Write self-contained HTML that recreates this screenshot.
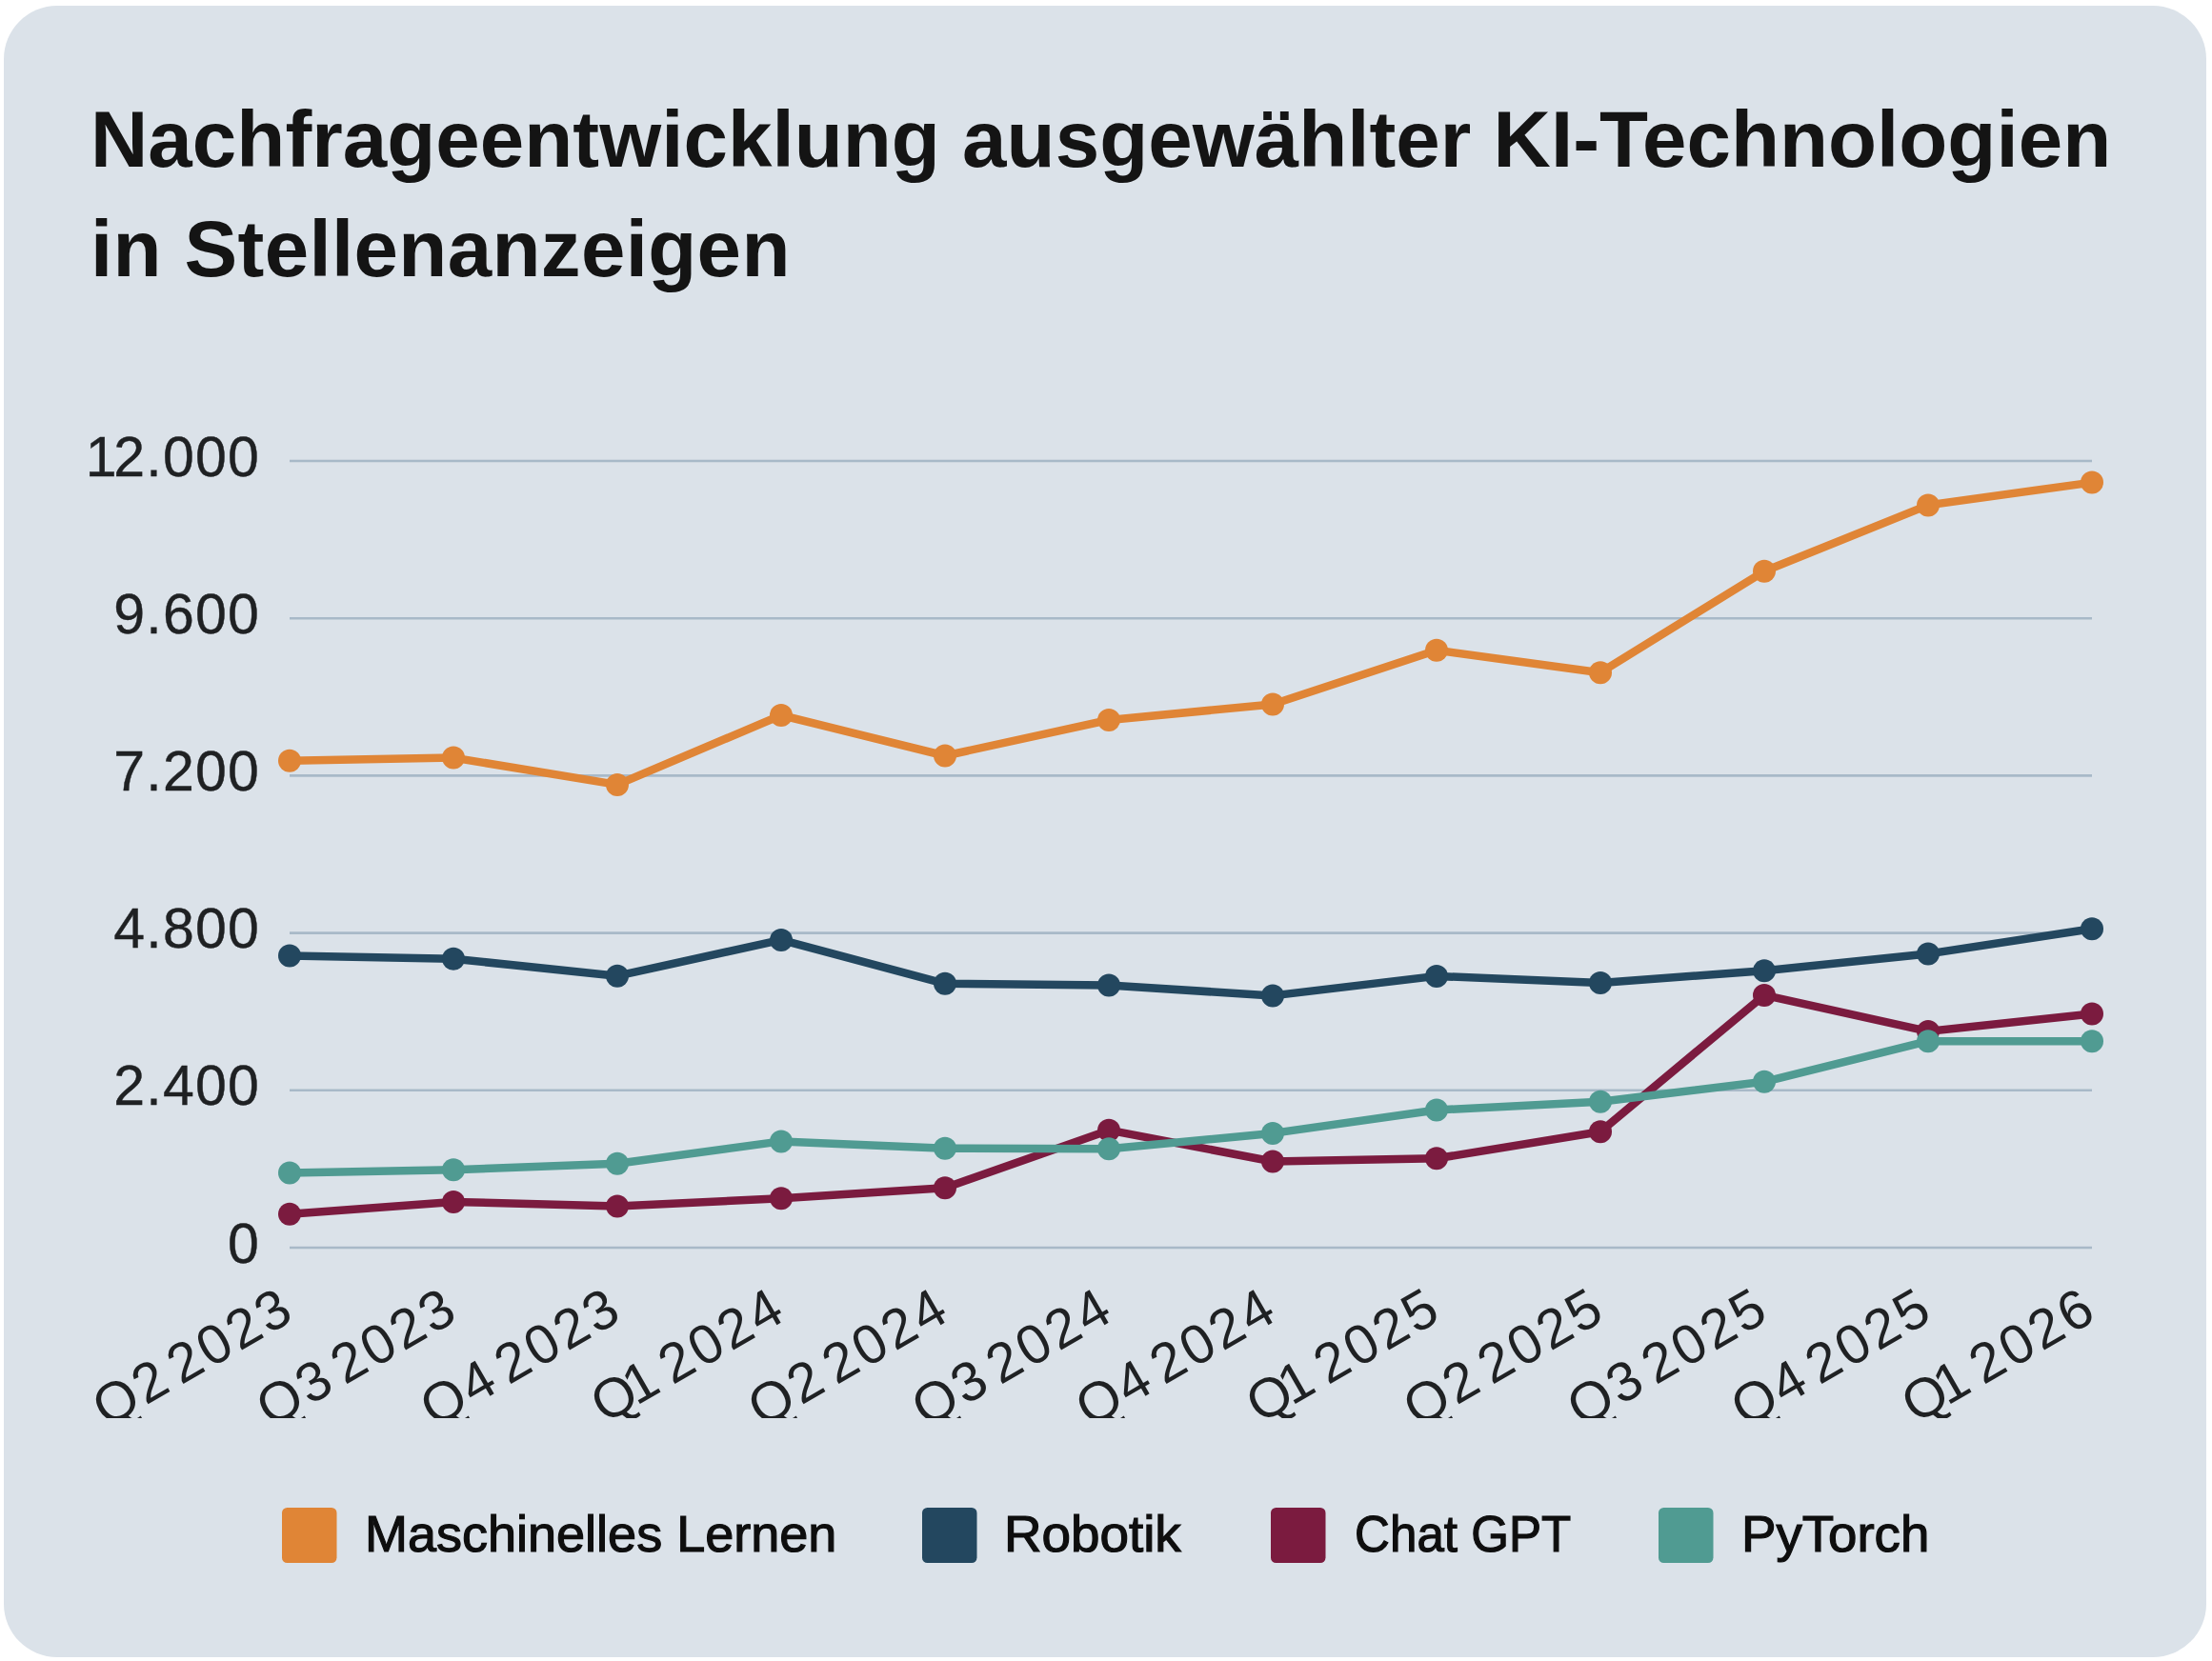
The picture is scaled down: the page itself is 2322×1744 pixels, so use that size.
<!DOCTYPE html>
<html><head><meta charset="utf-8">
<style>
html,body{margin:0;padding:0;background:#fff;width:2322px;height:1744px;overflow:hidden}
svg{display:block}
text{font-family:"Liberation Sans",sans-serif}
.t{font-weight:bold;font-size:83.5px;fill:#141414}
.yl{font-size:59px;fill:#1f2123;letter-spacing:1.2px;stroke:#1f2123;stroke-width:0.4px}
.xl{font-size:58px;fill:#1f2123;letter-spacing:3.2px;word-spacing:-10px;stroke:#1f2123;stroke-width:0px}
.lg{font-size:54px;fill:#0e0e0e;stroke:#0e0e0e;stroke-width:1.2px}
</style></head><body>
<svg width="2322" height="1744" viewBox="0 0 2322 1744">
<defs><clipPath id="xc"><rect x="0" y="1320" width="2322" height="169"/></clipPath></defs>
<rect x="4" y="6" width="2312" height="1734" rx="56" ry="56" fill="#dbe2e9"/>
<text x="95" y="175" class="t" letter-spacing="0.05">Nachfrageentwicklung ausgewählter KI-Technologien</text>
<text x="95" y="290" class="t" letter-spacing="0.35">in Stellenanzeigen</text>
<line x1="304" y1="484.0" x2="2196" y2="484.0" stroke="#a8b9c8" stroke-width="2.6"/>
<line x1="304" y1="649.2" x2="2196" y2="649.2" stroke="#a8b9c8" stroke-width="2.6"/>
<line x1="304" y1="814.4" x2="2196" y2="814.4" stroke="#a8b9c8" stroke-width="2.6"/>
<line x1="304" y1="979.6" x2="2196" y2="979.6" stroke="#a8b9c8" stroke-width="2.6"/>
<line x1="304" y1="1144.8" x2="2196" y2="1144.8" stroke="#a8b9c8" stroke-width="2.6"/>
<line x1="304" y1="1310.0" x2="2196" y2="1310.0" stroke="#a8b9c8" stroke-width="2.6"/>
<text x="273" y="499.5" text-anchor="end" class="yl">1<tspan dx="-4.5">2.000</tspan></text>
<text x="273" y="664.7" text-anchor="end" class="yl">9.600</text>
<text x="273" y="829.9" text-anchor="end" class="yl">7.200</text>
<text x="273" y="995.1" text-anchor="end" class="yl">4.800</text>
<text x="273" y="1160.3" text-anchor="end" class="yl">2.400</text>
<text x="273" y="1325.5" text-anchor="end" class="yl">0</text>
<polyline points="304,798.8 476,795.6 648,823.9 820,751 992,793.5 1164,756 1336,739.5 1508,682.8 1680,706.2 1852,599.8 2024,530.4 2196,506.6" fill="none" stroke="#e08536" stroke-width="8.5" stroke-linejoin="round"/>
<circle cx="304" cy="798.8" r="12" fill="#e08536"/>
<circle cx="476" cy="795.6" r="12" fill="#e08536"/>
<circle cx="648" cy="823.9" r="12" fill="#e08536"/>
<circle cx="820" cy="751" r="12" fill="#e08536"/>
<circle cx="992" cy="793.5" r="12" fill="#e08536"/>
<circle cx="1164" cy="756" r="12" fill="#e08536"/>
<circle cx="1336" cy="739.5" r="12" fill="#e08536"/>
<circle cx="1508" cy="682.8" r="12" fill="#e08536"/>
<circle cx="1680" cy="706.2" r="12" fill="#e08536"/>
<circle cx="1852" cy="599.8" r="12" fill="#e08536"/>
<circle cx="2024" cy="530.4" r="12" fill="#e08536"/>
<circle cx="2196" cy="506.6" r="12" fill="#e08536"/>
<polyline points="304,1003.5 476,1006.8 648,1024.7 820,986.9 992,1032.8 1164,1034.6 1336,1045.4 1508,1024.9 1680,1032 1852,1019.2 2024,1001.5 2196,975.2" fill="none" stroke="#23475f" stroke-width="8.5" stroke-linejoin="round"/>
<circle cx="304" cy="1003.5" r="12" fill="#23475f"/>
<circle cx="476" cy="1006.8" r="12" fill="#23475f"/>
<circle cx="648" cy="1024.7" r="12" fill="#23475f"/>
<circle cx="820" cy="986.9" r="12" fill="#23475f"/>
<circle cx="992" cy="1032.8" r="12" fill="#23475f"/>
<circle cx="1164" cy="1034.6" r="12" fill="#23475f"/>
<circle cx="1336" cy="1045.4" r="12" fill="#23475f"/>
<circle cx="1508" cy="1024.9" r="12" fill="#23475f"/>
<circle cx="1680" cy="1032" r="12" fill="#23475f"/>
<circle cx="1852" cy="1019.2" r="12" fill="#23475f"/>
<circle cx="2024" cy="1001.5" r="12" fill="#23475f"/>
<circle cx="2196" cy="975.2" r="12" fill="#23475f"/>
<polyline points="304,1274.8 476,1262 648,1266.4 820,1258.3 992,1247.2 1164,1186.7 1336,1219.5 1508,1216.3 1680,1188.2 1852,1044.9 2024,1082.9 2196,1064.5" fill="none" stroke="#7b1b3f" stroke-width="8.5" stroke-linejoin="round"/>
<circle cx="304" cy="1274.8" r="12" fill="#7b1b3f"/>
<circle cx="476" cy="1262" r="12" fill="#7b1b3f"/>
<circle cx="648" cy="1266.4" r="12" fill="#7b1b3f"/>
<circle cx="820" cy="1258.3" r="12" fill="#7b1b3f"/>
<circle cx="992" cy="1247.2" r="12" fill="#7b1b3f"/>
<circle cx="1164" cy="1186.7" r="12" fill="#7b1b3f"/>
<circle cx="1336" cy="1219.5" r="12" fill="#7b1b3f"/>
<circle cx="1508" cy="1216.3" r="12" fill="#7b1b3f"/>
<circle cx="1680" cy="1188.2" r="12" fill="#7b1b3f"/>
<circle cx="1852" cy="1044.9" r="12" fill="#7b1b3f"/>
<circle cx="2024" cy="1082.9" r="12" fill="#7b1b3f"/>
<circle cx="2196" cy="1064.5" r="12" fill="#7b1b3f"/>
<polyline points="304,1231.5 476,1228.3 648,1221.8 820,1198.4 992,1205.8 1164,1206.2 1336,1189.9 1508,1165.5 1680,1156.7 1852,1135.8 2024,1093.2 2196,1093.2" fill="none" stroke="#509b92" stroke-width="8.5" stroke-linejoin="round"/>
<circle cx="304" cy="1231.5" r="12" fill="#509b92"/>
<circle cx="476" cy="1228.3" r="12" fill="#509b92"/>
<circle cx="648" cy="1221.8" r="12" fill="#509b92"/>
<circle cx="820" cy="1198.4" r="12" fill="#509b92"/>
<circle cx="992" cy="1205.8" r="12" fill="#509b92"/>
<circle cx="1164" cy="1206.2" r="12" fill="#509b92"/>
<circle cx="1336" cy="1189.9" r="12" fill="#509b92"/>
<circle cx="1508" cy="1165.5" r="12" fill="#509b92"/>
<circle cx="1680" cy="1156.7" r="12" fill="#509b92"/>
<circle cx="1852" cy="1135.8" r="12" fill="#509b92"/>
<circle cx="2024" cy="1093.2" r="12" fill="#509b92"/>
<circle cx="2196" cy="1093.2" r="12" fill="#509b92"/>
<g clip-path="url(#xc)">
<text transform="translate(312.8,1383.5) rotate(-30)" text-anchor="end" class="xl">Q<tspan dx="-1">2</tspan><tspan dx="7.3">2023</tspan></text>
<text transform="translate(484.8,1383.5) rotate(-30)" text-anchor="end" class="xl">Q<tspan dx="-1">3</tspan><tspan dx="7.3">2023</tspan></text>
<text transform="translate(656.8,1383.5) rotate(-30)" text-anchor="end" class="xl">Q<tspan dx="-1">4</tspan><tspan dx="7.3">2023</tspan></text>
<text transform="translate(828.8,1383.5) rotate(-30)" text-anchor="end" class="xl">Q<tspan dx="-10">1</tspan><tspan dx="8.3">2024</tspan></text>
<text transform="translate(1000.8,1383.5) rotate(-30)" text-anchor="end" class="xl">Q<tspan dx="-1">2</tspan><tspan dx="7.3">2024</tspan></text>
<text transform="translate(1172.8,1383.5) rotate(-30)" text-anchor="end" class="xl">Q<tspan dx="-1">3</tspan><tspan dx="7.3">2024</tspan></text>
<text transform="translate(1344.8,1383.5) rotate(-30)" text-anchor="end" class="xl">Q<tspan dx="-1">4</tspan><tspan dx="7.3">2024</tspan></text>
<text transform="translate(1516.8,1383.5) rotate(-30)" text-anchor="end" class="xl">Q<tspan dx="-10">1</tspan><tspan dx="8.3">2025</tspan></text>
<text transform="translate(1688.8,1383.5) rotate(-30)" text-anchor="end" class="xl">Q<tspan dx="-1">2</tspan><tspan dx="7.3">2025</tspan></text>
<text transform="translate(1860.8,1383.5) rotate(-30)" text-anchor="end" class="xl">Q<tspan dx="-1">3</tspan><tspan dx="7.3">2025</tspan></text>
<text transform="translate(2032.8,1383.5) rotate(-30)" text-anchor="end" class="xl">Q<tspan dx="-1">4</tspan><tspan dx="7.3">2025</tspan></text>
<text transform="translate(2204.8,1383.5) rotate(-30)" text-anchor="end" class="xl">Q<tspan dx="-10">1</tspan><tspan dx="8.3">2026</tspan></text>
</g>
<rect x="296" y="1583" width="57.5" height="58" rx="5.5" fill="#e08536"/>
<text transform="translate(383,1629) scale(1.0,1)" class="lg" letter-spacing="0">Maschinelles Lernen</text>
<rect x="968" y="1583" width="57.5" height="58" rx="5.5" fill="#23475f"/>
<text transform="translate(1053.94,1629) scale(1.015,1)" class="lg" letter-spacing="0">Robotik</text>
<rect x="1334" y="1583" width="57.5" height="58" rx="5.5" fill="#7b1b3f"/>
<text transform="translate(1422.108,1629) scale(0.946,1)" class="lg" letter-spacing="0">Chat GPT</text>
<rect x="1741" y="1583" width="57.5" height="58" rx="5.5" fill="#509b92"/>
<text transform="translate(1827.952,1629) scale(1.012,1)" class="lg" letter-spacing="0">PyTorch</text>
</svg>
</body></html>
